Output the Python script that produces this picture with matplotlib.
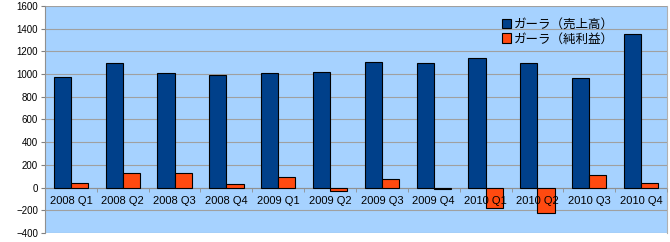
import matplotlib
matplotlib.use("Agg")
import matplotlib.pyplot as plt
import numpy as np

plt.rcParams['font.family'] = ['Liberation Sans', 'Noto Sans CJK JP', 'DejaVu Sans']

quarters = ['2008 Q1', '2008 Q2', '2008 Q3', '2008 Q4',
            '2009 Q1', '2009 Q2', '2009 Q3', '2009 Q4',
            '2010 Q1', '2010 Q2', '2010 Q3', '2010 Q4']
revenue = [972, 1095, 1007, 990, 1007, 1016, 1111, 1102, 1146, 1094, 962, 1350]
net_profit = [44, 131, 131, 35, 93, -30, 79, -10, -184, -227, 114, 44]

label_rev = 'ガーラ（売上高）'
label_net = 'ガーラ（純利益）'


def main():
    fig = plt.figure(figsize=(6.7, 2.42), dpi=100)
    ax = fig.add_axes([45 / 670, 9 / 242, 622 / 670, 227 / 242])
    ax.set_facecolor('#a6d2ff')

    x = np.arange(len(quarters))
    w = 0.33
    ax.bar(x - w / 2, revenue, w, color='#00408a', edgecolor='black',
           linewidth=0.8, label=label_rev, zorder=3)
    ax.bar(x + w / 2, net_profit, w, color='#ff4a10', edgecolor='black',
           linewidth=0.8, label=label_net, zorder=3)

    ax.set_xlim(-0.5, len(quarters) - 0.5)
    ax.set_ylim(-400, 1600)
    ax.set_yticks(range(-400, 1601, 200))
    ax.yaxis.grid(True, color='#a0a0a0', linewidth=0.8)
    ax.yaxis.set_zorder(1)
    ax.tick_params(axis='y', labelsize=7, length=3, color='#808080', pad=2)

    ax.spines['bottom'].set_position(('data', 0))
    ax.spines['bottom'].set_color('#909090')
    ax.spines['bottom'].set_zorder(2)
    ax.spines['left'].set_color('#909090')
    ax.spines['top'].set_visible(False)
    ax.spines['right'].set_color('#b0b0b0')

    # category labels sit on top of the bars
    ax.xaxis.set_zorder(5)
    ax.set_xticks(x)
    ax.set_xticklabels(quarters, fontsize=8)
    ax.tick_params(axis='x', length=0, pad=6)
    ax.set_xticks(np.arange(-0.5, len(quarters)), minor=True)
    ax.tick_params(axis='x', which='minor', length=3, color='#909090',
                   direction='out')

    leg = ax.legend(loc='upper left', bbox_to_anchor=(0.72, 0.985),
                    frameon=False, handlelength=0.75, handleheight=0.75,
                    handletextpad=0.25, labelspacing=0.1, borderpad=0.2,
                    prop={'family': ['Noto Sans CJK JP'], 'size': 9})
    for h in leg.legend_handles:
        h.set_linewidth(0.8)

    fig.savefig('out.png', dpi=100)


if __name__ == '__main__':
    main()
